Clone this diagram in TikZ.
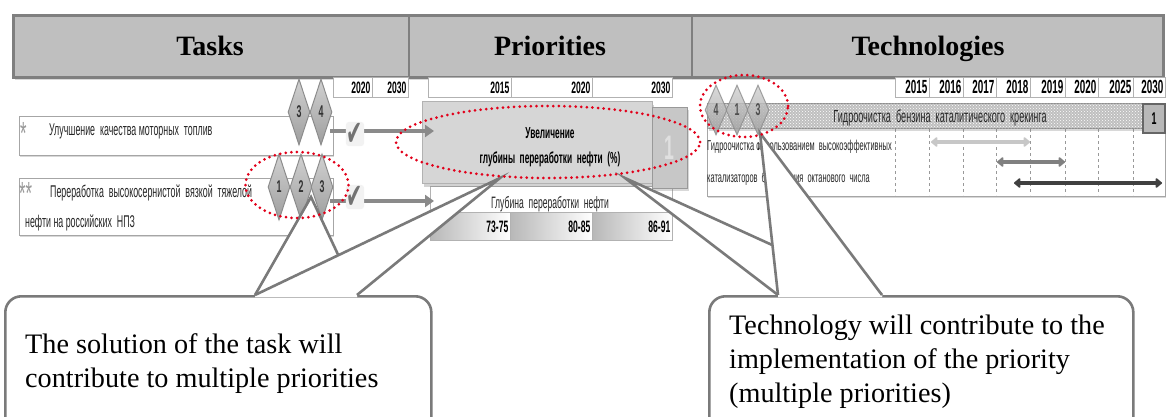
\documentclass[tikz,border=0pt]{standalone}
\usepackage{fontspec}
\setmainfont{Liberation Serif}
\newfontfamily\nar[FakeStretch=0.52]{Liberation Sans}
\newfontfamily\djv{DejaVu Sans}
\usetikzlibrary{shapes.geometric,arrows.meta,patterns,shadows}

\definecolor{hdrfill}{HTML}{BFBFBF}
\definecolor{hdrline}{HTML}{7F7F7F}
\definecolor{connline}{HTML}{8A8A8A}
\definecolor{callline}{HTML}{7A7A7A}
\definecolor{hlred}{HTML}{E2001A}
\definecolor{priofill}{HTML}{D6D6D6}

% pointer of a callout: white wedge that opens the box edge, then its two sides
\newcommand{\calloutptr}[3]{%
  \fill[white] (#1) -- (#2) -- (#3) -- ([yshift=-2pt]#3) -- ([yshift=-2pt]#1) -- cycle;
  \draw[ptr] (#1) -- (#2) -- (#3);}

\tikzset{
  hdrbox/.style={draw=hdrline, fill=hdrfill, line width=2.6pt, inner sep=0pt, anchor=north west,
    drop shadow={shadow xshift=1.5pt, shadow yshift=-2.5pt, opacity=0.3}},
  hdrtext/.style={font=\fontsize{28}{28}\selectfont\bfseries, anchor=base, inner sep=0pt},
  yrcell/.style={draw=black!30, fill=white, line width=0.7pt, minimum height=20pt,
    inner xsep=2pt, inner ysep=0pt, text width=#1, align=right, anchor=north west,
    font=\nar\bfseries\fontsize{16.5}{16.5}\selectfont},
  valcell/.style={yrcell=#1, minimum height=28pt, left color=black!28, right color=white,
    font=\nar\bfseries\fontsize{16.5}{16.5}\selectfont},
  taskbox/.style={draw=black!35, fill=white, line width=0.9pt, inner sep=0pt, anchor=north west,
    drop shadow={shadow xshift=1pt, shadow yshift=-2pt, opacity=0.3}},
  rutext/.style={font=\nar\fontsize{17}{17}\selectfont, text=black!85, inner sep=0pt, anchor=base west},
  smalltxt/.style={font=\nar\fontsize{14.3}{14.3}\selectfont, text=black!85, inner sep=0pt},
  star/.style={font=\nar\fontsize{32}{32}\selectfont, text=black!40, inner sep=0pt, anchor=base west},
  dmd/.style={shape=diamond, draw=black!45, line width=1pt, top color=black!18, bottom color=black!38,
    minimum width=22pt, minimum height=66pt, inner sep=0pt,
    font=\nar\bfseries\fontsize{17}{17}\selectfont, text=black!80},
  dmdl/.style={dmd, minimum width=22pt, minimum height=50pt, opacity=0.8},
  chk/.style={fill=black!5, rounded corners=3pt, inner sep=1pt, text=black!55,
    font=\djv\fontsize{32}{32}\selectfont},
  conn/.style={draw=connline, line width=4pt},
  connarrow/.style={conn, -{Triangle[length=9pt,width=12pt]}},
  priobox/.style={draw=black!30, fill=priofill, line width=1pt, inner sep=0pt, anchor=north west,
    drop shadow={shadow xshift=1pt, shadow yshift=-3pt, opacity=0.35}},
  prioside/.style={draw=black!40, fill=black!22, line width=1pt, inner sep=0pt, anchor=north west,
    drop shadow={shadow xshift=1pt, shadow yshift=-2pt, opacity=0.3}},
  priotext/.style={font=\nar\bfseries\fontsize{16}{16}\selectfont, anchor=base, inner sep=0pt},
  rowbox/.style={draw=black!30, fill=white, line width=0.7pt, inner sep=0pt, anchor=north west},
  techbar/.style={draw=black!45, fill=black!25, line width=1pt, inner sep=0pt, anchor=north west,
    postaction={pattern=crosshatch dots, pattern color=white},
    drop shadow={shadow xshift=1pt, shadow yshift=-2pt, opacity=0.3}},
  technum/.style={draw=black!60, fill=black!28, line width=2pt, inner sep=0pt, anchor=north west,
    font=\nar\bfseries\fontsize{17}{17}\selectfont},
  techbody/.style={draw=black!35, fill=white, line width=0.9pt, inner sep=0pt, anchor=north west,
    drop shadow={shadow xshift=1pt, shadow yshift=-2pt, opacity=0.3}},
  gridl/.style={draw=black!40, line width=0.5pt, dashed},
  dbl/.style={line width=4.5pt, {Triangle[length=7pt,width=11pt,round]}-{Triangle[length=7pt,width=11pt,round]}},
  hl/.style={shape=ellipse, draw=hlred, line width=3pt, dash pattern=on 0pt off 5.6pt,
    line cap=round, inner sep=0pt},
  callbox/.style={draw=callline, fill=white, line width=2.6pt, rounded corners=16pt,
    inner sep=0pt, anchor=north west},
  ptr/.style={draw=callline, line width=2.6pt, line join=miter},
  calltext/.style={font=\fontsize{28.2}{28.2}\selectfont, anchor=base west, inner sep=0pt}
}

\begin{document}
\begin{tikzpicture}[x=1pt,y=-1pt]
\useasboundingbox (0,0) rectangle (1166,416);
\fill[white] (0,0) rectangle (1166,416);

% ---- column headers
\node[hdrbox, minimum width=1150pt, minimum height=62pt] (hdr) at (12,14) {};
\draw[hdrline, line width=2.6pt] (409,14) -- (409,76) (692,14) -- (692,76);
\node[hdrtext] (hTasks) at (210,55) {Tasks};
\node[hdrtext] (hPrio) at (550,55) {Priorities};
\node[hdrtext] (hTech) at (928,55) {Technologies};

% ---- tasks
\node[yrcell=35pt] (tY20) at (333,77) {2020};
\node[yrcell=32pt] (tY30) at (372,77) {2030};

\node[taskbox, minimum width=314pt, minimum height=39pt] (task1) at (19,116) {};
\node[taskbox, minimum width=314pt, minimum height=57pt] (task2) at (19,178) {};
\node[star] (task1star) at (20,144) {*};
\node[rutext] (task1txt) at (49,135) {Улучшение\ \ качества моторных\ \ топлив};
\node[star] (task2star) at (19,204) {**};
\node[rutext] (task2a) at (50,197) {Переработка\ \ высокосернистой\ \ вязкой\ \ тяжелой};
\node[rutext] (task2b) at (25,227) {нефти на российских\ \ НПЗ};

\node[dmd] (dA3) at (299,112) {3};
\node[dmd] (dA4) at (321,112) {4};
\node[dmd] (dB1) at (279,187) {1};
\node[dmd] (dB2) at (301,187) {2};
\node[dmd] (dB3) at (322,187) {3};

% ---- priorities
\node[yrcell=79pt] (pY15) at (428,77) {2015};
\node[yrcell=77pt] (pY20) at (511,77) {2020};
\node[yrcell=76pt] (pY30) at (592,77) {2030};

\node[rowbox, minimum width=242pt, minimum height=26pt] (depth) at (430,186) {};
\node[rutext, anchor=base, font=\nar\fontsize{16.5}{16.5}\selectfont] (depthtxt) at (550,208) {Глубина\ \ переработки\ \ нефти};
\node[valcell=76pt] (v1) at (430,212) {73-75};
\node[valcell=78pt] (v2) at (510,212) {80-85};
\node[valcell=76pt] (v3) at (592,212) {86-91};

\node[priobox, minimum width=230pt, minimum height=82pt] (prio) at (422,101) {};
\node[prioside, minimum width=35pt, minimum height=81pt] (prioN) at (652,107) {};
\node[font=\nar\bfseries\fontsize{34}{34}\selectfont, text=black!12] (prioNum) at (669,148) {1};
\node[priotext] (prioL1) at (550,138) {Увеличение};
\node[priotext] (prioL2) at (550,163) {глубины\ \ переработки\ \ нефти\ \ (\%)};

% ---- connectors from tasks to priorities
\coordinate (srcA) at (330,131);
\coordinate (srcB) at (330,201);
\coordinate (arA) at (434,131);
\coordinate (arB) at (434,201);
\draw[connarrow] (srcA) -- (arA);
\draw[connarrow] (srcB) -- (arB);
\node[chk] (chkA) at (355,134) {\scalebox{0.6}[1.1]{✔}};
\node[chk] (chkB) at (355,197) {\scalebox{0.6}[1.1]{✔}};

% ---- technologies
\node[yrcell=30pt, font=\nar\bfseries\fontsize{19}{19}\selectfont] (y15) at (895,77) {2015};
\node[yrcell=30pt, font=\nar\bfseries\fontsize{19}{19}\selectfont] (y16) at (929,77) {2016};
\node[yrcell=29pt, font=\nar\bfseries\fontsize{19}{19}\selectfont] (y17) at (963,77) {2017};
\node[yrcell=30pt, font=\nar\bfseries\fontsize{19}{19}\selectfont] (y18) at (996,77) {2018};
\node[yrcell=31pt, font=\nar\bfseries\fontsize{19}{19}\selectfont] (y19) at (1030,77) {2019};
\node[yrcell=29pt, font=\nar\bfseries\fontsize{19}{19}\selectfont] (y20) at (1065,77) {2020};
\node[yrcell=31pt, font=\nar\bfseries\fontsize{19}{19}\selectfont] (y25) at (1098,77) {2025};
\node[yrcell=28pt, font=\nar\bfseries\fontsize{19}{19}\selectfont] (y30) at (1133,77) {2030};

\node[techbody, minimum width=458pt, minimum height=68pt] (tbody) at (707,128) {};
\foreach \gx in {895,929,963,996,1030,1065,1098,1133}
  \draw[gridl] (\gx,129) -- (\gx,195);
\node[techbar, minimum width=435pt, minimum height=25pt] (tbar) at (707,103) {};
\node[rutext, anchor=base, font=\nar\fontsize{17.5}{17.5}\selectfont] (tbartxt) at (940,122) {Гидроочистка\ \ бензина\ \ каталитического\ \ крекинга};
\node[technum, minimum width=22pt, minimum height=29pt] (tnum) at (1142,103) {1};

\node[smalltxt, anchor=base west] (tb1a) at (707,150) {Гидроочистка с};
\node[smalltxt, anchor=base east] (tb1b) at (892,150) {использованием\ \ высокоэффективных};
\node[smalltxt, anchor=base west] (tb2a) at (707,182) {катализаторов\ \ без};
\node[smalltxt, anchor=base east] (tb2b) at (870,182) {снижения\ \ октанового\ \ числа};

\coordinate (ga1) at (931,142); \coordinate (ga2) at (1030,142);
\coordinate (gb1) at (997,162); \coordinate (gb2) at (1065,162);
\coordinate (gc1) at (1014,183); \coordinate (gc2) at (1162,183);
\draw[dbl, draw=black!22] (ga1) -- (ga2);
\draw[dbl, draw=black!50] (gb1) -- (gb2);
\draw[dbl, draw=black!75] (gc1) -- (gc2);

\node[dmdl] (tdA) at (716,110) {4};
\node[dmdl] (tdB) at (737,110) {1};
\node[dmdl] (tdC) at (758,110) {3};

% ---- callouts
\node[callbox, minimum width=426pt, minimum height=140pt] (cbL) at (4,295) {};
\coordinate (cbLp1) at (255,295);
\coordinate (cbLp2) at (357,295);
\coordinate (tipTask) at (311,197);
\coordinate (tipPrioL) at (500,178);
\calloutptr{cbLp1}{tipTask}{cbLp2}
\calloutptr{cbLp1}{tipPrioL}{cbLp2}
\node[calltext] (cbLl1) at (25,353) {The solution of the task will};
\node[calltext] (cbLl2) at (25,387) {contribute to multiple priorities};

\node[callbox, minimum width=424pt, minimum height=140pt] (cbR) at (708,295) {};
\coordinate (cbRp1) at (778,295);
\coordinate (cbRp2) at (882,295);
\coordinate (tipPrioR) at (625,178);
\coordinate (tipTech) at (760,133);
\calloutptr{cbRp1}{tipPrioR}{cbRp2}
\calloutptr{cbRp1}{tipTech}{cbRp2}
\node[calltext] (cbRl1) at (729,334) {Technology will contribute to the};
\node[calltext] (cbRl2) at (729,368) {implementation of the priority};
\node[calltext] (cbRl3) at (729,402) {(multiple priorities)};

% ---- red highlight rings
\node[hl, minimum width=304pt, minimum height=72pt] (hlPrio) at (548,142) {};
\node[hl, minimum width=103pt, minimum height=66pt] (hlTask) at (297,185) {};
\node[hl, minimum width=88pt, minimum height=62pt] (hlTech) at (744,106) {};
\end{tikzpicture}
\end{document}
